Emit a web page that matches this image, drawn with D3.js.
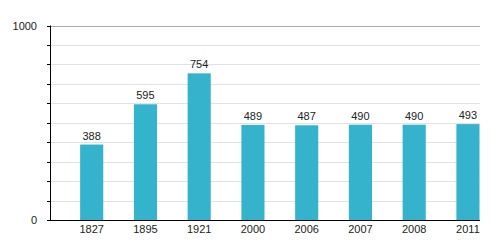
<!DOCTYPE html>
<html>
<head>
<meta charset="utf-8">
<script src="https://cdn.jsdelivr.net/npm/d3@7"></script>
<style>
body { margin: 0; background: #fff; }
svg text { font-family: "Liberation Sans", Arial, sans-serif; font-size: 11px; fill: #222; }
</style>
</head>
<body>
<div id="chart"></div>
<script>
var width = 500;
var height = 250;

var years = ['1827', '1895', '1921', '2000', '2006', '2007', '2008', '2011'];
var population = [388, 595, 754, 489, 487, 490, 490, 493];
var yTickLabels = [0, 1000];

var plotLeft = 50, plotRight = 480, plotTop = 25.5, plotBottom = 220;

var svg = d3.select('#chart')
	.append('svg')
	.attr('width', width)
	.attr('height', height);

var x = d3.scaleBand()
	.domain(years)
	.range([plotLeft, plotRight])
	.padding(0);

var y = d3.scaleLinear()
	.domain([0, 1000])
	.range([plotBottom, plotTop]);

var barW = x.bandwidth() * 0.43;
function barX(d) { return x(d) + x.bandwidth() - barW - 0.5; }

// grid lines every 100
svg.append('g')
	.selectAll('line')
	.data(d3.range(100, 1001, 100))
	.enter()
	.append('line')
		.attr('x1', plotLeft)
		.attr('x2', plotRight)
		.attr('y1', function(d){ return Math.round(y(d)) + 0.5; })
		.attr('y2', function(d){ return Math.round(y(d)) + 0.5; })
		.style('stroke', function(d){ return d === 1000 ? '#aaa' : '#e2e2e2'; })
		.style('stroke-width', '1px');

// small ticks on the left
svg.append('g')
	.selectAll('line')
	.data(d3.range(0, 1001, 100))
	.enter()
	.append('line')
		.attr('x1', plotLeft - 3)
		.attr('x2', plotLeft)
		.attr('y1', function(d){ return Math.round(y(d)) + 0.5; })
		.attr('y2', function(d){ return Math.round(y(d)) + 0.5; })
		.style('stroke', '#000');

svg.append('g')
	.selectAll('text')
	.data(yTickLabels)
	.enter()
	.append('text')
		.attr('x', 37)
		.attr('y', function(d){ return y(d) + 4; })
		.attr('text-anchor', 'end')
		.text(function(d){ return d; });

// bars
svg.append('g')
	.selectAll('rect')
	.data(years)
	.enter()
	.append('rect')
		.attr('x', function(d){ return barX(d); })
		.attr('y', function(d, i){ return y(population[i]); })
		.attr('width', barW)
		.attr('height', function(d, i){ return plotBottom - y(population[i]); })
		.attr('fill', '#35b3cd');

// value labels
svg.append('g')
	.selectAll('text')
	.data(years)
	.enter()
	.append('text')
		.attr('x', function(d){ return barX(d) + barW / 2; })
		.attr('y', function(d, i){ return y(population[i]) - 5; })
		.attr('text-anchor', 'middle')
		.text(function(d, i){ return population[i]; });

// axes lines
svg.append('line')
	.attr('x1', plotLeft + 0.5).attr('x2', plotLeft + 0.5)
	.attr('y1', plotTop).attr('y2', plotBottom)
	.style('stroke', '#000');
svg.append('line')
	.attr('x1', plotLeft).attr('x2', plotRight)
	.attr('y1', plotBottom + 0.5).attr('y2', plotBottom + 0.5)
	.style('stroke', '#000');

// x labels
svg.append('g')
	.selectAll('text')
	.data(years)
	.enter()
	.append('text')
		.attr('x', function(d){ return barX(d) + barW / 2; })
		.attr('y', 233)
		.attr('text-anchor', 'middle')
		.text(function(d){ return d; });
</script>
</body>
</html>
